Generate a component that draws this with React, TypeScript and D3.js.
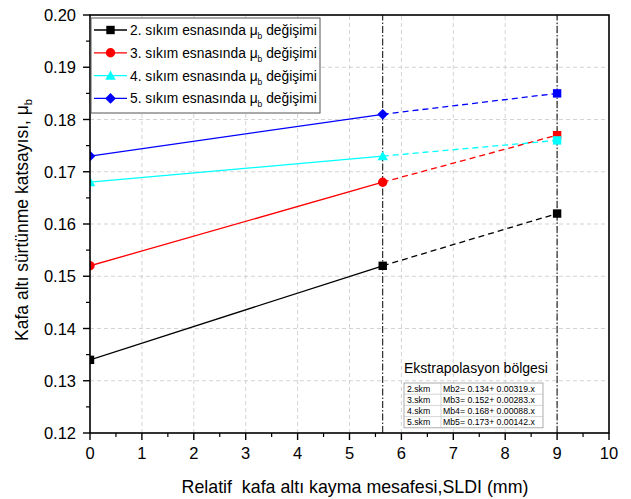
import React from 'react';
import * as d3 from 'd3';

const xMeasured = [0, 5.64];
const xExtrap = 9;
const seriesNames = ['2', '3', '4', '5'];
const seriesColors = ['#000000', '#ff0000', '#00ffff', '#0000ff'];
const seriesShapes = ['square', 'circle', 'triangle', 'diamond'];
const measured = [
  [0.134, 0.152],
  [0.152, 0.168],
  [0.168, 0.173],
  [0.173, 0.181],
];
const extrapolated = [0.162, 0.177, 0.176, 0.185];
const xTicks = [0, 1, 2, 3, 4, 5, 6, 7, 8, 9, 10];
const yTicks = [0.12, 0.13, 0.14, 0.15, 0.16, 0.17, 0.18, 0.19, 0.2];
const tableRows = [
  ['2.skm', 'Mb2= 0.134+ 0.00319.x'],
  ['3.skm', 'Mb3= 0.152+ 0.00283.x'],
  ['4.skm', 'Mb4= 0.168+ 0.00088.x'],
  ['5.skm', 'Mb5= 0.173+ 0.00142.x'],
];

const W = 631;
const H = 499;
const m = { left: 90, right: 22, top: 15, bottom: 66 };
const font = "'Liberation Sans', Arial, sans-serif";

function Marker({ shape, x, y, color, size = 4.2 }: { shape: string; x: number; y: number; color: string; size?: number }) {
  if (shape === 'circle') return <circle cx={x} cy={y} r={size + 0.5} fill={color} />;
  if (shape === 'triangle') {
    const s = size + 1;
    return <path d={`M${x},${y - s}L${x + s},${y + s * 0.8}L${x - s},${y + s * 0.8}Z`} fill={color} />;
  }
  if (shape === 'diamond') {
    const s = size + 1.2;
    return <path d={`M${x},${y - s}L${x + s},${y}L${x},${y + s}L${x - s},${y}Z`} fill={color} />;
  }
  return <rect x={x - size} y={y - size} width={size * 2} height={size * 2} fill={color} />;
}

const App: React.FC = () => {
  const x = d3.scaleLinear().domain([0, 10]).range([m.left, W - m.right]);
  const y = d3.scaleLinear().domain([0.12, 0.2]).range([H - m.bottom, m.top]);
  const x0 = x(0), x1 = x(10), y0 = y(0.12), y1 = y(0.2);
  const line = d3.line<[number, number]>().x(d => x(d[0])).y(d => y(d[1]));
  const minorX = d3.range(0.5, 10, 1);
  const minorY = d3.range(0.125, 0.2, 0.01);

  const legX = 91, legY = 18;
  const tabX = 404, tabY = 383, rowH = 11.2;

  return (
    <svg width={W} height={H} style={{ position: 'absolute', left: 0, top: 0, fontFamily: font }}>
      <defs>
        <clipPath id="plot">
          <rect x={x0} y={y1} width={x1 - x0} height={y0 - y1} />
        </clipPath>
      </defs>
      <rect width={W} height={H} fill="#fff" />
      {/* grid */}
      {xTicks.slice(1, -1).map(t => (
        <line key={'gx' + t} x1={x(t)} x2={x(t)} y1={y0} y2={y1} stroke="#c8c8c8" strokeDasharray="4,3" strokeWidth={0.8} />
      ))}
      {yTicks.slice(1, -1).map(t => (
        <line key={'gy' + t} x1={x0} x2={x1} y1={y(t)} y2={y(t)} stroke="#c8c8c8" strokeDasharray="4,3" strokeWidth={0.8} />
      ))}
      {/* vertical reference lines */}
      {[xMeasured[1], xExtrap].map(v => (
        <line key={'v' + v} x1={x(v)} x2={x(v)} y1={y0} y2={y1} stroke="#000" strokeWidth={1} strokeDasharray="7,2,1.5,2" />
      ))}
      {/* series */}
      <g clipPath="url(#plot)">
        {measured.map((vals, i) => {
          const pts: [number, number][] = xMeasured.map((xv, j) => [xv, vals[j]]);
          const ext: [number, number][] = [[xMeasured[1], vals[1]], [xExtrap, extrapolated[i]]];
          return (
            <g key={'s' + i}>
              <path d={line(pts) || ''} fill="none" stroke={seriesColors[i]} strokeWidth={1.3} />
              <path d={line(ext) || ''} fill="none" stroke={seriesColors[i]} strokeWidth={1.3} strokeDasharray="6,4" />
              {pts.map((p, j) => (
                <Marker key={j} shape={seriesShapes[i]} x={x(p[0])} y={y(p[1])} color={seriesColors[i]} />
              ))}
              <Marker shape="square" x={x(xExtrap)} y={y(extrapolated[i])} color={seriesColors[i]} />
            </g>
          );
        })}
      </g>
      {/* frame */}
      <rect x={x0} y={y1} width={x1 - x0} height={y0 - y1} fill="none" stroke="#000" strokeWidth={1.6} />
      {/* x ticks */}
      {xTicks.map(t => (
        <g key={'xt' + t}>
          <line x1={x(t)} x2={x(t)} y1={y0} y2={y0 + 7} stroke="#000" strokeWidth={1.4} />
          <text x={x(t)} y={y0 + 26} textAnchor="middle" fontSize={16.5}>{t}</text>
        </g>
      ))}
      {minorX.map(t => (
        <line key={'mx' + t} x1={x(t)} x2={x(t)} y1={y0} y2={y0 + 4} stroke="#000" strokeWidth={1.2} />
      ))}
      {yTicks.map(t => (
        <g key={'yt' + t}>
          <line x1={x0 - 7} x2={x0} y1={y(t)} y2={y(t)} stroke="#000" strokeWidth={1.4} />
          <text x={x0 - 14} y={y(t) + 6} textAnchor="end" fontSize={16.5}>{t.toFixed(2)}</text>
        </g>
      ))}
      {minorY.map(t => (
        <line key={'my' + t} x1={x0 - 4} x2={x0} y1={y(t)} y2={y(t)} stroke="#000" strokeWidth={1.2} />
      ))}
      {/* axis titles */}
      <text x={355} y={493} textAnchor="middle" fontSize={17.8}>{'Relatif\u00a0 kafa altı kayma mesafesi,SLDI (mm)'}</text>
      <text transform={`translate(28,220) rotate(-90)`} textAnchor="middle" fontSize={17.5}>
        Kafa altı sürtünme katsayısı, μ<tspan fontSize={11} dy={4}>b</tspan>
      </text>
      {/* legend */}
      <rect x={legX} y={legY} width={229} height={95} fill="#fff" stroke="#555" strokeWidth={1} />
      {seriesNames.map((n, i) => {
        const ly = legY + 12 + i * 22.8;
        return (
          <g key={'l' + i}>
            <line x1={legX + 3} x2={legX + 36} y1={ly} y2={ly} stroke={seriesColors[i]} strokeWidth={1.3} />
            <Marker shape={seriesShapes[i]} x={legX + 19.5} y={ly} color={seriesColors[i]} />
            <text x={legX + 39} y={ly + 5} fontSize={13.8}>
              {n}. sıkım esnasında μ<tspan fontSize={8.5} dy={4}>b</tspan><tspan dy={-4}> değişimi</tspan>
            </text>
          </g>
        );
      })}
      {/* extrapolation note */}
      <text x={tabX} y={tabY - 10} fontSize={14}>Ekstrapolasyon bölgesi</text>
      <rect x={tabX} y={tabY} width={139} height={rowH * 4} fill="#fff" stroke="#999" strokeWidth={0.8} />
      <line x1={tabX + 37} x2={tabX + 37} y1={tabY} y2={tabY + rowH * 4} stroke="#bbb" strokeWidth={0.6} />
      {tableRows.map((r, i) => (
        <g key={'tr' + i}>
          {i > 0 && <line x1={tabX} x2={tabX + 139} y1={tabY + i * rowH} y2={tabY + i * rowH} stroke="#bbb" strokeWidth={0.6} />}
          <text x={tabX + 3} y={tabY + i * rowH + 8.8} fontSize={8.7}>{r[0]}</text>
          <text x={tabX + 39} y={tabY + i * rowH + 8.8} fontSize={8.7}>{r[1]}</text>
        </g>
      ))}
    </svg>
  );
};

export default App;
